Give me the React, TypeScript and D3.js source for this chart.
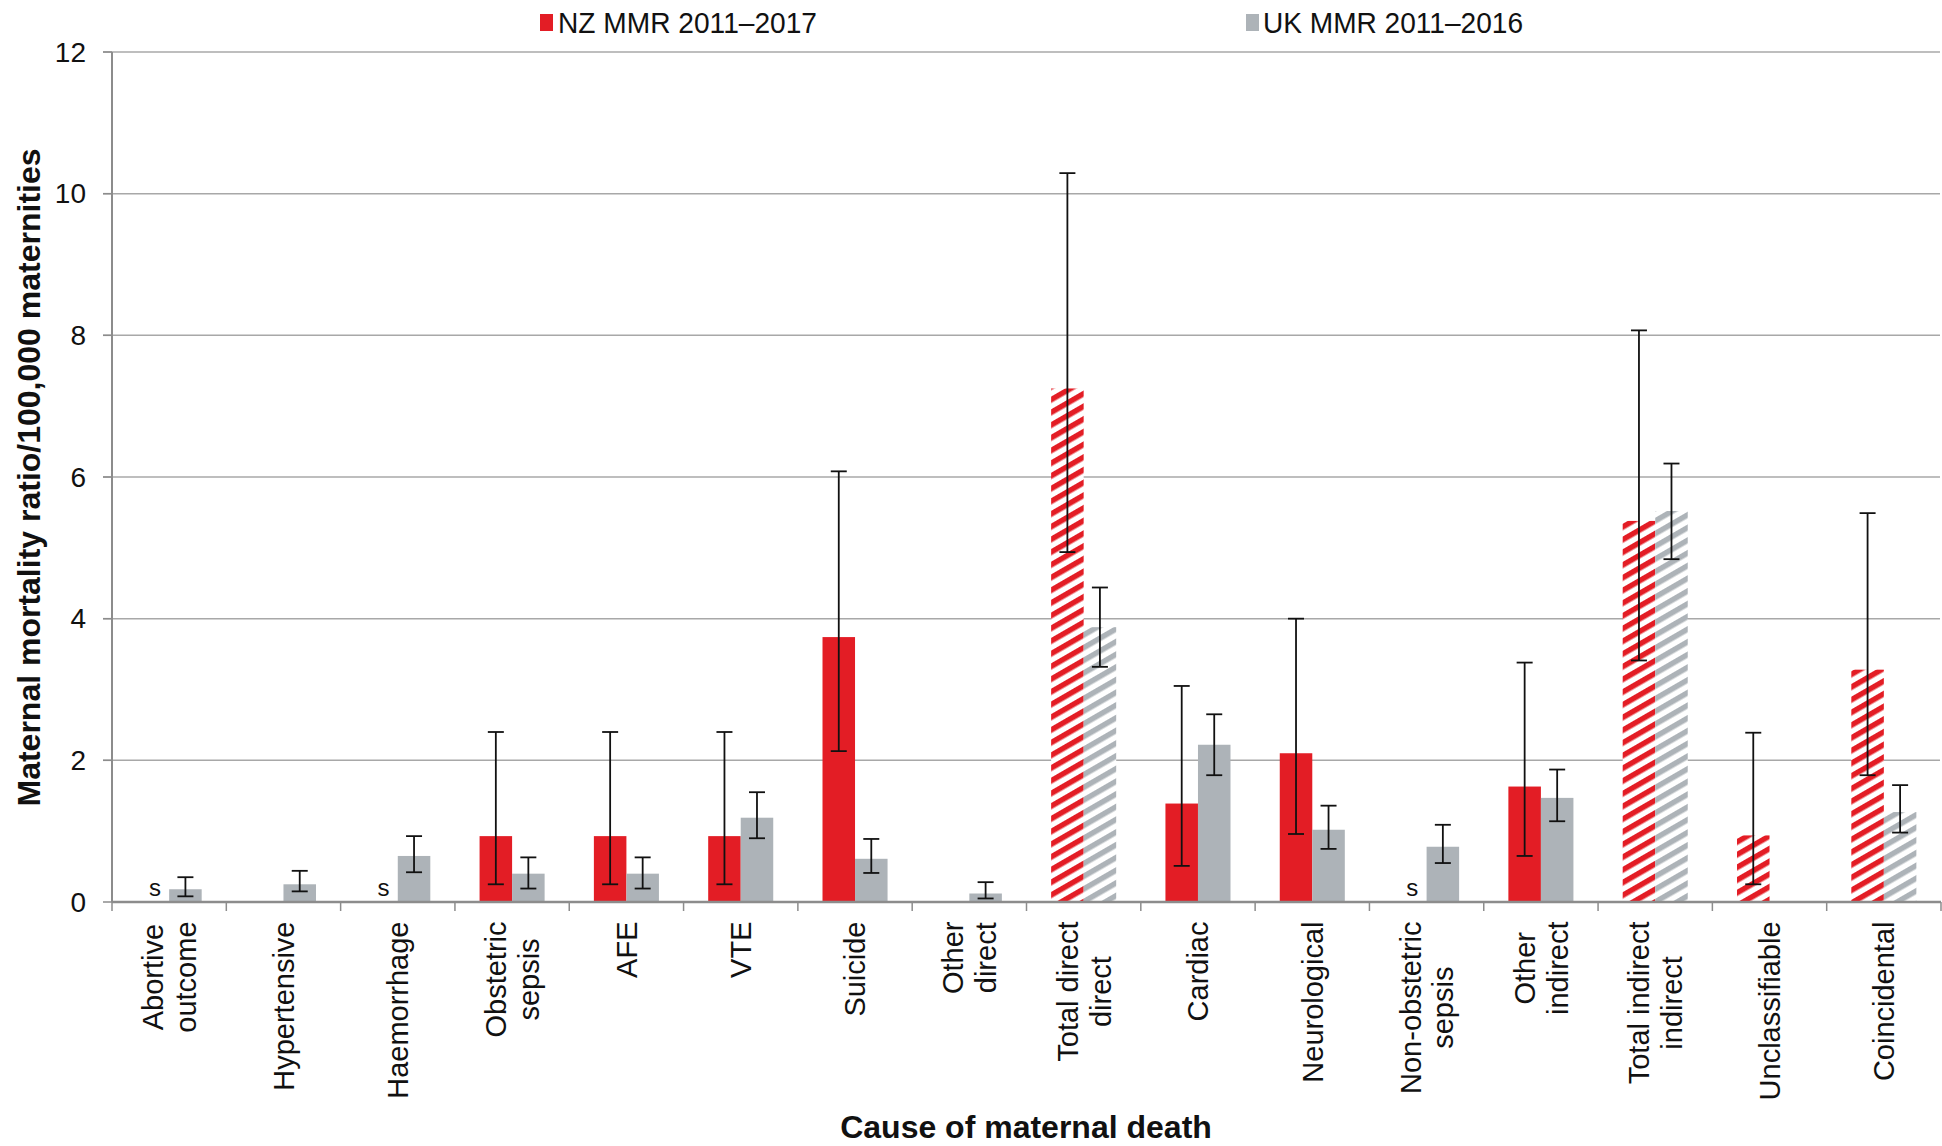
import React from "react";
import * as d3 from "d3";

const categories = [
  ["Abortive", "outcome"],
  ["Hypertensive"],
  ["Haemorrhage"],
  ["Obstetric", "sepsis"],
  ["AFE"],
  ["VTE"],
  ["Suicide"],
  ["Other", "direct"],
  ["Total direct", "direct"],
  ["Cardiac"],
  ["Neurological"],
  ["Non-obstetric", "sepsis"],
  ["Other", "indirect"],
  ["Total indirect", "indirect"],
  ["Unclassifiable"],
  ["Coincidental"],
];

const nzValues = [null, null, null, 0.93, 0.93, 0.93, 3.74, null, 7.25, 1.39, 2.1, null, 1.63, 5.38, 0.94, 3.28];
const nzLow = [null, null, null, 0.25, 0.25, 0.25, 2.13, null, 4.94, 0.51, 0.96, null, 0.65, 3.41, 0.25, 1.79];
const nzHigh = [null, null, null, 2.4, 2.4, 2.4, 6.08, null, 10.29, 3.05, 4.0, null, 3.38, 8.07, 2.39, 5.49];

const ukValues = [0.18, 0.25, 0.65, 0.4, 0.4, 1.19, 0.61, 0.12, 3.88, 2.22, 1.02, 0.78, 1.47, 5.52, null, 1.27];
const ukLow = [0.08, 0.15, 0.42, 0.19, 0.19, 0.9, 0.41, 0.05, 3.32, 1.79, 0.75, 0.55, 1.14, 4.84, null, 0.98];
const ukHigh = [0.35, 0.44, 0.93, 0.63, 0.63, 1.55, 0.89, 0.28, 4.44, 2.65, 1.36, 1.09, 1.87, 6.19, null, 1.65];

const suppressedNZ = [true, false, true, false, false, false, false, false, false, false, false, true, false, false, false, false];
const hatched = [false, false, false, false, false, false, false, false, true, false, false, false, false, true, true, true];

const yTicks = [0, 2, 4, 6, 8, 10, 12];
const seriesNames = ["NZ MMR 2011–2017", "UK MMR 2011–2016"];
const seriesKeys = ["NZ", "UK"];

const RED = "#e31d25";
const GRAY = "#adb3b8";
const GRID = "#a8a8a8";
const AXIS = "#8c8c8c";
const FONT = "'Liberation Sans', Arial, Helvetica, sans-serif";

const W = 1942;
const H = 1146;
const left = 112;
const right = 1941;
const top = 52;
const bottom = 902;

let measureCtx: CanvasRenderingContext2D | null = null;
function measure(text: string, font: string): number {
  if (!measureCtx) {
    const c = document.createElement("canvas");
    measureCtx = c.getContext("2d");
  }
  if (!measureCtx) return text.length * 15;
  measureCtx.font = font;
  return measureCtx.measureText(text).width;
}

export default function App() {
  const idx = categories.map((_, i) => String(i));
  const x = d3.scaleBand<string>().domain(idx).range([left, right]).paddingInner(0).paddingOuter(0);
  const bw = x.bandwidth();
  const x1 = d3.scaleBand<string>().domain(seriesKeys).range([bw * 0.2155, bw * 0.7845]).padding(0);
  const y = d3.scaleLinear().domain([0, 12]).range([bottom, top]);
  const barW = x1.bandwidth();

  const labelFont = `29px ${FONT}`;
  const lineGap = 33;
  const capHalf = 10.4;
  const labelTop = 921.5;

  const series = [
    { key: "NZ", vals: nzValues, lo: nzLow, hi: nzHigh, color: RED, pat: "hatchRed" },
    { key: "UK", vals: ukValues, lo: ukLow, hi: ukHigh, color: GRAY, pat: "hatchGray" },
  ];

  const boundaries = d3.range(categories.length + 1).map((i) => left + i * bw);

  return (
    <svg width={W} height={H} style={{ position: "absolute", left: 0, top: 0, background: "#fff" }}>
      <defs>
        <pattern id="hatchRed" patternUnits="userSpaceOnUse" width={11} height={11} patternTransform="rotate(-30)">
          <rect width={11} height={11} fill="#fff" />
          <rect width={11} height={5.5} fill={RED} />
        </pattern>
        <pattern id="hatchGray" patternUnits="userSpaceOnUse" width={11} height={11} patternTransform="rotate(-30)">
          <rect width={11} height={11} fill="#fff" />
          <rect width={11} height={5.5} fill={GRAY} />
        </pattern>
      </defs>

      {/* gridlines */}
      {yTicks.filter((t) => t > 0).map((t) => (
        <line key={t} x1={left - 9} x2={W - 2} y1={y(t)} y2={y(t)} stroke={GRID} strokeWidth={1.5} />
      ))}

      {/* bars */}
      {series.map((s) =>
        s.vals.map((v, i) => {
          if (v == null) return null;
          const bx = (x(String(i)) as number) + (x1(s.key) as number);
          return (
            <rect
              key={s.key + i}
              x={bx}
              y={y(v)}
              width={barW}
              height={y(0) - y(v)}
              fill={hatched[i] ? `url(#${s.pat})` : s.color}
            />
          );
        })
      )}

      {/* error bars */}
      {series.map((s) =>
        s.vals.map((v, i) => {
          const lo = s.lo[i];
          const hi = s.hi[i];
          if (v == null || lo == null || hi == null) return null;
          const cx = (x(String(i)) as number) + (x1(s.key) as number) + barW / 2;
          return (
            <g key={"e" + s.key + i} stroke="#111" strokeWidth={1.8}>
              <line x1={cx} x2={cx} y1={y(lo)} y2={y(hi)} />
              <line x1={cx - 8} x2={cx + 8} y1={y(lo)} y2={y(lo)} />
              <line x1={cx - 8} x2={cx + 8} y1={y(hi)} y2={y(hi)} />
            </g>
          );
        })
      )}

      {/* suppressed labels */}
      {suppressedNZ.map((sup, i) =>
        sup ? (
          <text
            key={"s" + i}
            x={(x(String(i)) as number) + (x1("NZ") as number) + barW / 2 + 2}
            y={bottom - 6}
            textAnchor="middle"
            fontFamily={FONT}
            fontSize={24}
            fill="#111"
          >
            s
          </text>
        ) : null
      )}

      {/* y axis */}
      <line x1={left} x2={left} y1={top} y2={bottom} stroke={AXIS} strokeWidth={2} />
      {yTicks.map((t) => (
        <g key={"yt" + t}>
          <line x1={left - 9} x2={left} y1={y(t)} y2={y(t)} stroke={AXIS} strokeWidth={1.5} />
          <text x={86} y={y(t)} textAnchor="end" dominantBaseline="central" fontFamily={FONT} fontSize={28} fill="#111">
            {t}
          </text>
        </g>
      ))}

      {/* x axis */}
      <line x1={left} x2={right} y1={bottom} y2={bottom} stroke={AXIS} strokeWidth={2.5} />
      {boundaries.map((bx, i) => (
        <line key={"xt" + i} x1={bx} x2={bx} y1={bottom} y2={bottom + 9} stroke={AXIS} strokeWidth={1.5} />
      ))}

      {/* x labels */}
      {categories.map((lines, i) => {
        const cx = (x(String(i)) as number) + bw / 2;
        const lmax = Math.max(...lines.map((l) => measure(l, labelFont)));
        const yc = labelTop + lmax / 2;
        const n = lines.length;
        return (
          <text
            key={"xl" + i}
            transform={`translate(${cx},${yc}) rotate(-90)`}
            textAnchor="middle"
            fontFamily={FONT}
            fontSize={29}
            fill="#111"
          >
            {lines.map((l, j) => (
              <tspan key={j} x={0} y={(j - (n - 1) / 2) * lineGap + capHalf}>
                {l}
              </tspan>
            ))}
          </text>
        );
      })}

      {/* axis titles */}
      <text
        transform={`translate(40,477.5) rotate(-90)`}
        textAnchor="middle"
        fontFamily={FONT}
        fontWeight="bold"
        fontSize={32}
        fill="#111"
      >
        Maternal mortality ratio/100,000 maternities
      </text>
      <text x={1026} y={1138} textAnchor="middle" fontFamily={FONT} fontWeight="bold" fontSize={32} fill="#111">
        Cause of maternal death
      </text>

      {/* legend */}
      <rect x={540} y={14} width={13} height={17} fill={RED} />
      <text x={558} y={33} fontFamily={FONT} fontSize={29} fill="#111" textLength={259} lengthAdjust="spacingAndGlyphs">
        {seriesNames[0]}
      </text>
      <rect x={1246} y={14} width={13} height={17} fill={GRAY} />
      <text x={1263} y={33} fontFamily={FONT} fontSize={29} fill="#111" textLength={260} lengthAdjust="spacingAndGlyphs">
        {seriesNames[1]}
      </text>
    </svg>
  );
}
